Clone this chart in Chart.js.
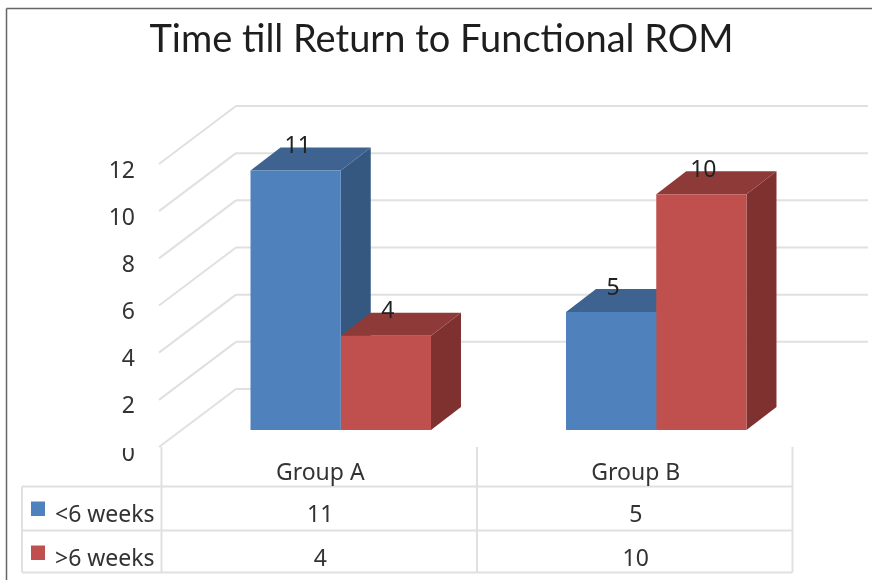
<!DOCTYPE html>
<html>
<head>
<meta charset="utf-8">
<title>Time till Return to Functional ROM</title>
<script src="https://cdn.jsdelivr.net/npm/chart.js@4/dist/chart.umd.js"></script>
<style>
  html, body { margin: 0; padding: 0; background: #fff; }
  canvas { display: block; filter: blur(0.45px); }
</style>
</head>
<body>
<canvas id="romChart" width="872" height="580"></canvas>
<script>
const chartTitle = "Time till Return to Functional ROM";
const groups = ["Group A", "Group B"];
const seriesNames = ["<6 weeks", ">6 weeks"];
const underSixWeeks = [11, 5];
const overSixWeeks = [4, 10];

const frontColors = ["#4f81bd", "#c0504d"];
const topColors = ["#3e6390", "#8e3a38"];
const sideColors = ["#355880", "#7e312f"];
const gridColor = "#e0e0e0";
const textColor = "#333";
const fontFamily = "'Noto Sans', 'Open Sans', sans-serif";
const titleFont = "Lato, 'Open Sans', sans-serif";

// how far the bars and back wall sit from the front of the box
const barDepth = { x: 30, y: -23 };
const wallFront = { x: -24, y: 17 };
const wallBack = { x: 53, y: -41 };

const rows = [486.5, 530.5, 572.5];
const tableTop = 447;
const tableLeft = 22;

const text = (ctx, str, x, y, size, align, color, family) => {
  ctx.font = size + "px " + (family || fontFamily);
  ctx.textAlign = align;
  ctx.textBaseline = "middle";
  ctx.fillStyle = color;
  ctx.fillText(str, x, y);
};

const line = (ctx, x1, y1, x2, y2) => {
  ctx.beginPath();
  ctx.moveTo(x1, y1);
  ctx.lineTo(x2, y2);
  ctx.stroke();
};

const face = (ctx, color, points) => {
  ctx.fillStyle = color;
  ctx.beginPath();
  points.forEach((p, i) => i ? ctx.lineTo(p[0], p[1]) : ctx.moveTo(p[0], p[1]));
  ctx.closePath();
  ctx.fill();
};

const box3d = {
  id: "box3d",
  beforeDatasetsDraw(chart) {
    const ctx = chart.ctx;
    const xs = chart.scales.x;
    const ys = chart.scales.y;

    // frame of the picture
    ctx.save();
    ctx.strokeStyle = "#666";
    ctx.lineWidth = 1.5;
    line(ctx, 6.5, 8.5, 6.5, 580);
    line(ctx, 6.5, 8.5, 872, 8.5);

    // walls: one line on the side wall and one on the back wall per tick
    ctx.strokeStyle = gridColor;
    ctx.lineWidth = 2;
    ys.ticks.forEach(t => {
      const y = ys.getPixelForValue(t.value);
      const bx = xs.left + wallBack.x;
      line(ctx, xs.left + wallFront.x, y + wallFront.y, bx, y + wallBack.y);
      if (t.value > 0) line(ctx, bx, y + wallBack.y, xs.right + wallBack.x + 1, y + wallBack.y);
      else line(ctx, bx, y + wallBack.y, xs.left + 70, y + wallBack.y);
    });

    // depth faces, the library paints the front faces over these
    chart.data.datasets.forEach((ds, i) => {
      chart.getDatasetMeta(i).data.forEach(bar => {
        const l = bar.x - bar.width / 2;
        const r = bar.x + bar.width / 2;
        face(ctx, sideColors[i], [[r, bar.y], [r + barDepth.x, bar.y + barDepth.y],
          [r + barDepth.x, bar.base + barDepth.y], [r, bar.base]]);
        face(ctx, topColors[i], [[l, bar.y], [l + barDepth.x, bar.y + barDepth.y],
          [r + barDepth.x, bar.y + barDepth.y], [r, bar.y]]);
      });
    });
    ctx.restore();
  },
  afterDatasetsDraw(chart) {
    const ctx = chart.ctx;
    const xs = chart.scales.x;
    const ys = chart.scales.y;
    ctx.save();

    text(ctx, chartTitle, 441.5, 40, 38, "center", "#1e1e1e", titleFont);

    // value labels on the bars
    chart.data.datasets.forEach((ds, i) => {
      chart.getDatasetMeta(i).data.forEach((bar, j) => {
        text(ctx, String(ds.data[j]), bar.x + 2, bar.y - 24, 23, "center", "#222");
      });
    });

    // y tick labels, the 0 is cut off by the table in the picture
    ys.ticks.forEach(t => {
      const y = ys.getPixelForValue(t.value) + 24;
      ctx.save();
      if (t.value === 0) {
        ctx.beginPath();
        ctx.rect(100, tableTop + 1, 40, 30);
        ctx.clip();
      }
      text(ctx, String(t.value), 135, y, 23, "right", textColor);
      ctx.restore();
    });

    // data table
    const colShift = wallFront.x + 2.5;
    const cols = [xs.left + colShift, xs.getPixelForValue(0) + xs.width / 4 + colShift, xs.right + colShift];
    ctx.strokeStyle = gridColor;
    ctx.lineWidth = 2;
    cols.forEach(x => line(ctx, x, tableTop, x, rows[2]));
    line(ctx, tableLeft, rows[0], tableLeft, rows[2]);
    rows.forEach(y => line(ctx, tableLeft, y, cols[2], y));

    chart.data.labels.forEach((label, j) => {
      const cx = (cols[j] + cols[j + 1]) / 2 + 1;
      text(ctx, label, cx, (tableTop + rows[0]) / 2 + 7, 23, "center", textColor);
      chart.data.datasets.forEach((ds, i) => {
        text(ctx, String(ds.data[j]), cx, rows[i] + 29, 23, "center", textColor);
      });
    });
    chart.data.datasets.forEach((ds, i) => {
      ctx.fillStyle = frontColors[i];
      ctx.fillRect(31, rows[i] + 15, 14, 14.5);
      text(ctx, ds.label, 55, rows[i] + 29, 23, "left", textColor);
    });
    ctx.restore();
  }
};

new Chart(document.getElementById("romChart"), {
  type: "bar",
  data: {
    labels: groups,
    datasets: [
      { label: seriesNames[0], data: underSixWeeks, backgroundColor: frontColors[0] },
      { label: seriesNames[1], data: overSixWeeks, backgroundColor: frontColors[1] }
    ]
  },
  options: {
    responsive: false,
    animation: false,
    layout: { padding: { left: 183, right: 58, top: 147, bottom: 150 } },
    categoryPercentage: 0.572,
    barPercentage: 1,
    plugins: {
      legend: { display: false },
      title: { display: false },
      tooltip: { enabled: false }
    },
    scales: {
      x: { display: false },
      y: { display: false, min: 0, max: 12, ticks: { stepSize: 2 } }
    }
  },
  plugins: [box3d]
});
</script>
</body>
</html>
